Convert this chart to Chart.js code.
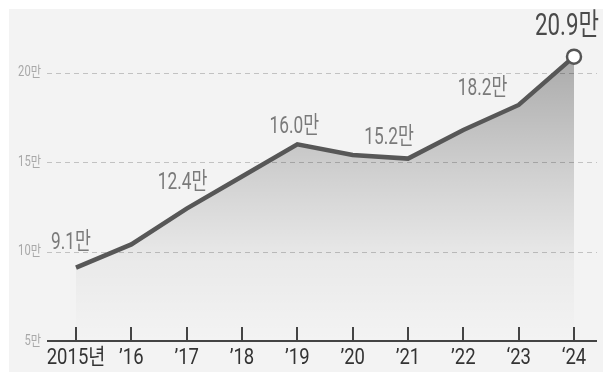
<!DOCTYPE html>
<html>
<head>
<meta charset="utf-8">
<script src="https://cdn.jsdelivr.net/npm/chart.js@4"></script>
<style>
  html, body { margin: 0; padding: 0; background: #fff; }
  #wrap { width: 603px; height: 372px; }
</style>
</head>
<body>
<div id="wrap"><canvas id="visitorChart" width="603" height="372"></canvas></div>
<script>
// yearly values (만)
const years = ['2015년', '’16', '’17', '’18', '’19', '’20', '’21', '’22', '‘23', '‘24'];
const values = [9.1, 10.4, 12.4, 14.2, 16.0, 15.4, 15.2, 16.8, 18.2, 20.9];
const labelled = [0, 2, 4, 6, 8, 9];
const gridValues = [5, 10, 15, 20];

const FONT = 'Roboto, "Noto Sans CJK KR", sans-serif';

function squeezedText(ctx, text, x, y, size, color, sx, align) {
    ctx.save();
    ctx.font = size + 'px ' + FONT;
    ctx.fillStyle = color;
    ctx.textBaseline = 'middle';
    var w = ctx.measureText(text).width * sx;
    var left = align === 'right' ? x - w : x - w / 2;
    ctx.translate(left, y);
    ctx.scale(sx, 1);
    ctx.textAlign = 'left';
    ctx.fillText(text, 0, 0);
    ctx.restore();
}

const decorPlugin = {
    id: 'decor',
    beforeDraw(chart) {
        var ctx = chart.ctx;
        ctx.save();
        ctx.fillStyle = '#f3f3f3';
        ctx.fillRect(9, 9, chart.width - 9, chart.height - 9);
        ctx.restore();
    },
    beforeDatasetsDraw(chart) {
        var ctx = chart.ctx, y = chart.scales.y;
        ctx.save();
        ctx.strokeStyle = '#c2c2c2';
        ctx.lineWidth = 1;
        ctx.setLineDash([5, 4]);
        gridValues.forEach(function (v) {
            if (v === 5) return;
            var py = Math.round(y.getPixelForValue(v)) + 0.5;
            ctx.beginPath();
            ctx.moveTo(47, py);
            ctx.lineTo(597, py);
            ctx.stroke();
        });
        ctx.restore();
        gridValues.forEach(function (v) {
            squeezedText(ctx, v + '만', 41, y.getPixelForValue(v), 14, '#a8a8a8', 0.8, 'right');
        });
    },
    afterDatasetsDraw(chart) {
        var ctx = chart.ctx, x = chart.scales.x, y = chart.scales.y;
        var base = y.getPixelForValue(5);
        ctx.save();
        ctx.strokeStyle = '#444';
        ctx.lineWidth = 2;
        ctx.beginPath();
        ctx.moveTo(47, base);
        ctx.lineTo(597, base);
        years.forEach(function (yr, i) {
            var px = Math.round(x.getPixelForValue(i));
            ctx.moveTo(px, base);
            ctx.lineTo(px, base - 14);
        });
        ctx.stroke();
        ctx.restore();
        years.forEach(function (yr, i) {
            squeezedText(ctx, yr, x.getPixelForValue(i), base + 17, 22, '#333', 0.84, 'center');
        });
        // value labels
        var offs = {0: [-5, -25], 2: [-4, -26], 4: [-3, -17], 6: [-19, -21], 8: [-36, -16], 9: [-7, -29]};
        labelled.forEach(function (i) {
            var px = x.getPixelForValue(i), py = y.getPixelForValue(values[i]);
            var big = i === values.length - 1;
            squeezedText(ctx, values[i].toFixed(1) + '만', px + offs[i][0], py + offs[i][1],
                big ? 31 : 24, big ? '#4a4a4a' : '#7a7a7a', 0.72, 'center');
        });
    }
};

var ctx = document.getElementById('visitorChart').getContext('2d');
var grad = ctx.createLinearGradient(0, 55, 0, 341);
grad.addColorStop(0, 'rgba(0,0,0,0.30)');
grad.addColorStop(0.4, 'rgba(0,0,0,0.15)');
grad.addColorStop(0.72, 'rgba(0,0,0,0.04)');
grad.addColorStop(1, 'rgba(0,0,0,0)');

var myChart = new Chart(ctx, {
    type: 'line',
    data: {
        labels: years,
        datasets: [{
            data: values,
            borderColor: '#575757',
            borderWidth: 4.5,
            backgroundColor: grad,
            fill: 'origin',
            tension: 0,
            clip: false,
            pointRadius: values.map(function (v, i) { return i === values.length - 1 ? 7 : 0; }),
            pointBackgroundColor: '#fff',
            pointBorderColor: '#555',
            pointBorderWidth: 2.5
        }]
    },
    options: {
        responsive: false,
        animation: false,
        devicePixelRatio: 1,
        layout: { padding: { left: 76, right: 29, top: 37, bottom: 31 } },
        plugins: { legend: { display: false }, tooltip: { enabled: false } },
        scales: {
            x: { display: false, offset: false },
            y: { display: false, min: 5, max: 22 }
        }
    },
    plugins: [decorPlugin]
});
</script>
</body>
</html>
